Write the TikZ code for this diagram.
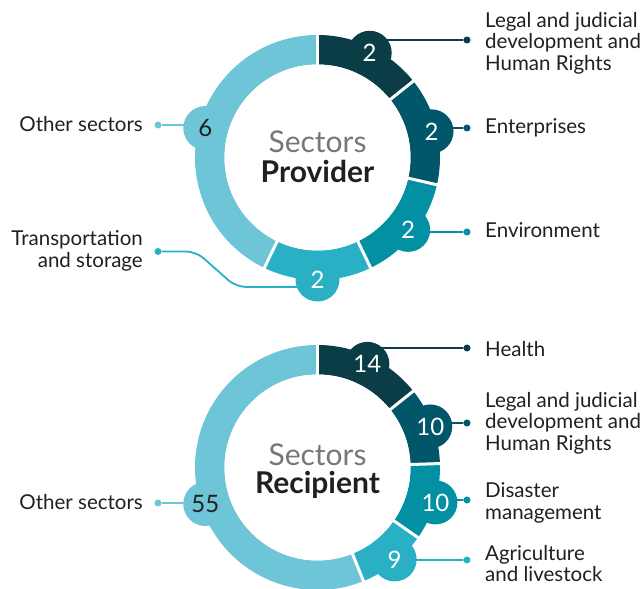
\documentclass[tikz,border=0pt]{standalone}
\usepackage{fontspec}
\setmainfont{Lato}
\usetikzlibrary{calc}
\pgfdeclarelayer{bg}
\pgfsetlayers{bg,main}
\definecolor{cA}{HTML}{0B3D47}
\definecolor{cB}{HTML}{02566A}
\definecolor{cC}{HTML}{0290A2}
\definecolor{cD}{HTML}{29B0C5}
\definecolor{cE}{HTML}{6DC5D7}
\definecolor{txt}{HTML}{231F20}
\definecolor{gtxt}{HTML}{777777}
\def\Rout{122.5pt}
\def\Rin{93pt}
\newcommand{\ringseg}[4]{%
  \fill[#4] ($(#1)+(#2:\Rout)$) arc[start angle=#2, end angle=#3, radius=\Rout]
    -- ($(#1)+(#3:\Rin)$) arc[start angle=#3, end angle=#2, radius=\Rin] -- cycle;}
\newcommand{\ringgap}[2]{%
  \draw[white, line width=3pt] ($(#1)+(#2:88pt)$) -- ($(#1)+(#2:127pt)$);}
\begin{document}
\begin{tikzpicture}[x=1pt,y=1pt,
  bubble/.style={circle, minimum size=44pt, inner sep=0pt, text=white,
    font=\fontsize{24}{26}\selectfont},
  dotn/.style={circle, minimum size=7pt, inner sep=0pt},
  conn/.style={line width=1.8pt, rounded corners=4pt},
  lbl/.style={text=txt, inner sep=0pt, font=\fontsize{20.5}{21.5}\selectfont},
  ctitle/.style={anchor=base, text=gtxt, inner sep=0pt, font=\fontsize{30}{32}\selectfont},
  cbold/.style={anchor=base, text=txt, inner sep=0pt, font=\fontsize{30}{32}\selectfont\bfseries}]
\useasboundingbox (0,0) rectangle (643,589);
\begin{pgfonlayer}{bg}
\fill[white] (0,0) rectangle (643,589);
\end{pgfonlayer}
% ===== TOP DONUT =====
\coordinate (T) at (317.5,431.5);
\ringseg{T}{90}{38.57}{cA}
\ringseg{T}{38.57}{-12.86}{cB}
\ringseg{T}{-12.86}{-64.29}{cC}
\ringseg{T}{-64.29}{-115.71}{cD}
\ringseg{T}{-115.71}{-270}{cE}
\node[bubble, fill=cA] (tb1) at ($(T)+(63.5:117pt)$) {2};
\node[bubble, fill=cB] (tb2) at ($(T)+(12.9:117pt)$) {2};
\node[bubble, fill=cC] (tb3) at ($(T)+(-38.6:116pt)$) {2};
\node[bubble, fill=cD] (tb4) at ($(T)+(-90:122pt)$) {2};
\node[bubble, fill=cE, text=txt] (tb5) at ($(T)+(165.3:116pt)$) {6};
\ringgap{T}{90}\ringgap{T}{38.57}\ringgap{T}{-12.86}\ringgap{T}{-64.29}\ringgap{T}{-115.71}
\node[circle, fill=white, minimum size=2*\Rin, inner sep=0pt] (tc) at (T) {};
\node[ctitle] (ts) at (317.5,436.5) {Sectors};
\node[cbold] (tp) at (317.5,406) {Provider};
% top dots
\node[dotn, fill=cA] (td1) at (467,549) {};
\node[dotn, fill=cB] (td2) at (467,461) {};
\node[dotn, fill=cC] (td3) at (467,357) {};
\node[dotn, fill=cD] (td4) at (158,337.5) {};
\node[dotn, fill=cE] (td5) at (158,464) {};
\coordinate (tk1) at (196,337.5);
\coordinate (tk2) at (236,302);
\begin{pgfonlayer}{bg}
\draw[conn, cA] (tb1.center) |- (td1);
\draw[conn, cB] (tb2.center) |- (td2);
\draw[conn, cC] (tb3.center) |- (td3);
\draw[conn, cD, rounded corners=10pt] (td4) -- (tk1) -- (tk2) -- (tk2 -| tb4.center);
\draw[conn, cE] (td5) -- (td5 -| tb5.center);
\end{pgfonlayer}
\node[lbl, anchor=west, align=left] (tl1) at (485,546) {Legal and judicial\\development and\\Human Rights};
\node[lbl, anchor=west] (tl2) at (485,461) {Enterprises};
\node[lbl, anchor=west] (tl3) at (485,359) {Environment};
\node[lbl, anchor=east, align=right] (tl4) at (143,338) {Transportation\\and storage};
\node[lbl, anchor=east] (tl5) at (143,465) {Other sectors};
% ===== BOTTOM DONUT =====
\coordinate (B) at (317.5,121.5);
\ringseg{B}{90}{38.57}{cA}
\ringseg{B}{38.57}{1.84}{cB}
\ringseg{B}{1.84}{-34.90}{cC}
\ringseg{B}{-34.90}{-67.96}{cD}
\ringseg{B}{-67.96}{-270}{cE}
\node[bubble, fill=cA] (bb1) at ($(B)+(64.3:115pt)$) {14};
\node[bubble, fill=cB] (bb2) at ($(B)+(20:120pt)$) {10};
\node[bubble, fill=cC] (bb3) at ($(B)+(-16.5:123pt)$) {10};
\node[bubble, fill=cD] (bb4) at ($(B)+(-50:120pt)$) {9};
\node[bubble, fill=cE, text=txt] (bb5) at ($(B)+(198:118pt)$) {55};
\ringgap{B}{90}\ringgap{B}{38.57}\ringgap{B}{1.84}\ringgap{B}{-34.90}\ringgap{B}{-67.96}
\node[circle, fill=white, minimum size=2*\Rin, inner sep=0pt] (bc) at (B) {};
\node[ctitle] (bs) at (317.5,123) {Sectors};
\node[cbold] (bp) at (317.5,95.5) {Recipient};
% bottom dots
\node[dotn, fill=cA] (bd1) at (467,241) {};
\node[dotn, fill=cB] (bd2) at (467,166) {};
\node[dotn, fill=cC] (bd3) at (467,89) {};
\node[dotn, fill=cD] (bd4) at (467,29) {};
\node[dotn, fill=cE] (bd5) at (158,86) {};
\begin{pgfonlayer}{bg}
\draw[conn, cA] (bb1.center) |- (bd1);
\draw[conn, cB] (bb2.center) |- (bd2);
\draw[conn, cC] (bb3.center) |- (bd3);
\draw[conn, cD] (bb4.center) |- (bd4);
\draw[conn, cE] (bd5) -- (bd5 -| bb5.center);
\end{pgfonlayer}
\node[lbl, anchor=west] (bl1) at (485,240) {Health};
\node[lbl, anchor=west, align=left] (bl2) at (485,166) {Legal and judicial\\development and\\Human Rights};
\node[lbl, anchor=west, align=left] (bl3) at (485,86) {Disaster\\management};
\node[lbl, anchor=west, align=left] (bl4) at (485,25.5) {Agriculture\\and livestock};
\node[lbl, anchor=east] (bl5) at (143,87) {Other sectors};
\end{tikzpicture}
\end{document}
